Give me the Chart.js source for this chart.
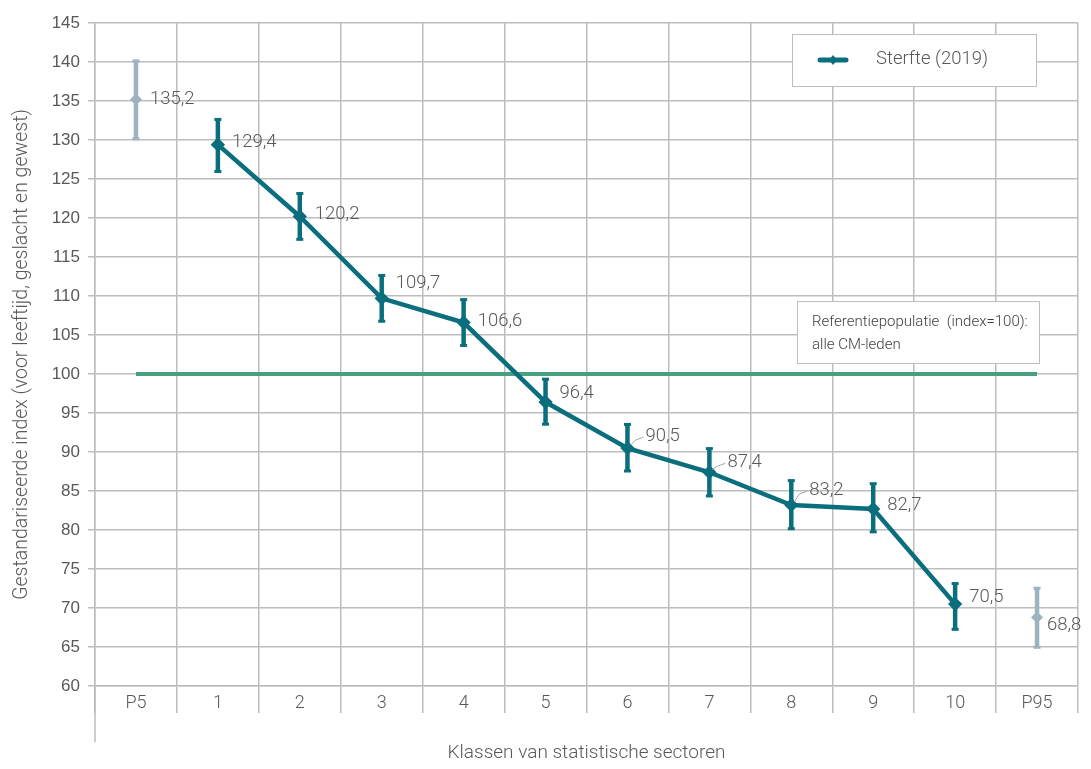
<!DOCTYPE html>
<html>
<head>
<meta charset="utf-8">
<script src="https://cdn.jsdelivr.net/npm/chart.js@4.4.0/dist/chart.umd.min.js"></script>
<style>
  html, body { margin: 0; padding: 0; background: #ffffff; }
  #wrap { position: relative; width: 1091px; height: 769px; }
</style>
</head>
<body>
<div id="wrap"><canvas id="sterfteChart" width="1091" height="769"></canvas></div>
<script>
// Chart data
const categories = ['P5', '1', '2', '3', '4', '5', '6', '7', '8', '9', '10', 'P95'];
const sterfte = [null, 129.4, 120.2, 109.7, 106.6, 96.4, 90.5, 87.4, 83.2, 82.7, 70.5, null];
const percentiles = [135.2, null, null, null, null, null, null, null, null, null, null, 68.8];
const lowerBound = [130.1, 125.9, 117.2, 106.7, 103.6, 93.5, 87.5, 84.3, 80.1, 79.7, 67.2, 64.9];
const upperBound = [140.2, 132.7, 123.2, 112.7, 109.6, 99.4, 93.6, 90.5, 86.4, 86.0, 73.2, 72.6];
const referentie = [100, 100, 100, 100, 100, 100, 100, 100, 100, 100, 100, 100];
const yTicks = [60, 65, 70, 75, 80, 85, 90, 95, 100, 105, 110, 115, 120, 125, 130, 135, 140, 145];

const TEAL = '#0b6e7c';
const GREYBLUE = '#9db4c0';
const GREEN = '#49a07f';
const GRID = '#bdbdbd';
const TEXT = '#595959';
const LIGHT = "Roboto, 'Liberation Sans', sans-serif";

// label offsets (dx, dy) relative to the point, leader = draw a small line
const labelOffsets = [
  [14, 0, false], [14, -2, false], [15, -2, false], [14, -15, false], [14, -1, false],
  [14, -9, false], [18, -12, true], [18, -10, true], [18, -15, true], [14, -4, false],
  [14, -7, false], [10, 8, false]
];

// error bars behind the points
const errorBars = {
  id: 'errorBars',
  beforeDatasetsDraw(chart) {
    const { ctx, scales: { x, y } } = chart;
    ctx.save();
    categories.forEach((c, i) => {
      const px = x.getPixelForValue(i);
      const top = y.getPixelForValue(upperBound[i]);
      const bot = y.getPixelForValue(lowerBound[i]);
      const col = (i === 0 || i === categories.length - 1) ? GREYBLUE : TEAL;
      ctx.strokeStyle = col;
      ctx.fillStyle = col;
      ctx.lineWidth = 4.5;
      ctx.beginPath();
      ctx.moveTo(px, top);
      ctx.lineTo(px, bot);
      ctx.stroke();
      ctx.fillRect(px - 3.5, top - 1, 7, 3);
      ctx.fillRect(px - 3.5, bot - 2, 7, 3);
    });
    ctx.restore();
  }
};

// value labels, legend box, reference box, extended y axis line
const decorations = {
  id: 'decorations',
  afterDraw(chart) {
    const { ctx, scales: { x, y }, chartArea } = chart;
    ctx.save();

    // y axis line running down past the x labels
    ctx.strokeStyle = GRID;
    ctx.lineWidth = 1.5;
    ctx.beginPath();
    ctx.moveTo(chartArea.left, chartArea.bottom);
    ctx.lineTo(chartArea.left, 742);
    ctx.stroke();

    // value labels
    ctx.font = '300 18.5px ' + LIGHT;
    ctx.fillStyle = TEXT;
    ctx.textAlign = 'left';
    ctx.textBaseline = 'middle';
    categories.forEach((c, i) => {
      const v = sterfte[i] !== null ? sterfte[i] : percentiles[i];
      const px = x.getPixelForValue(i);
      const py = y.getPixelForValue(v);
      const [dx, dy, leader] = labelOffsets[i];
      if (leader) {
        ctx.strokeStyle = '#a6a6a6';
        ctx.lineWidth = 1;
        ctx.beginPath();
        ctx.moveTo(px + 3, py - 3);
        ctx.lineTo(px + 8, py + dy + 4);
        ctx.lineTo(px + dx - 2, py + dy + 1);
        ctx.stroke();
      }
      ctx.fillText(v.toFixed(1).replace('.', ','), px + dx, py + dy);
    });

    // legend box
    ctx.fillStyle = '#ffffff';
    ctx.fillRect(792, 34, 244, 52);
    ctx.strokeStyle = '#bfbfbf';
    ctx.lineWidth = 1;
    ctx.strokeRect(792.5, 34.5, 244, 52);
    ctx.strokeStyle = TEAL;
    ctx.lineWidth = 5;
    ctx.lineCap = 'round';
    ctx.beginPath();
    ctx.moveTo(820, 60);
    ctx.lineTo(846, 60);
    ctx.stroke();
    ctx.lineCap = 'butt';
    ctx.fillStyle = TEAL;
    ctx.beginPath();
    ctx.moveTo(833, 55); ctx.lineTo(837, 60); ctx.lineTo(833, 65); ctx.lineTo(829, 60);
    ctx.closePath();
    ctx.fill();
    ctx.fillStyle = TEXT;
    ctx.font = '300 18.5px ' + LIGHT;
    ctx.fillText('Sterfte (2019)', 876, 59);

    // reference box
    ctx.fillStyle = '#ffffff';
    ctx.fillRect(797, 301, 242, 62);
    ctx.strokeStyle = '#bfbfbf';
    ctx.lineWidth = 1;
    ctx.strokeRect(797.5, 301.5, 242, 62);
    ctx.fillStyle = '#404040';
    ctx.font = '300 15px ' + LIGHT;
    ctx.fillText('Referentiepopulatie  (index=100):', 812, 322);
    ctx.fillText('alle CM-leden', 812, 345);

    ctx.restore();
  }
};

new Chart(document.getElementById('sterfteChart'), {
  type: 'line',
  data: {
    labels: categories,
    datasets: [
      {
        label: 'Sterfte (2019)',
        data: sterfte,
        borderColor: TEAL,
        backgroundColor: TEAL,
        borderWidth: 4.5,
        pointStyle: 'rectRot',
        pointRadius: 4,
        spanGaps: false,
        order: 1
      },
      {
        label: 'P5 / P95',
        data: percentiles,
        borderColor: GREYBLUE,
        backgroundColor: GREYBLUE,
        showLine: false,
        pointStyle: 'rectRot',
        pointRadius: 5.5,
        order: 2
      },
      {
        label: 'Referentiepopulatie',
        data: referentie,
        borderColor: GREEN,
        borderWidth: 4,
        pointRadius: 0,
        order: 3
      }
    ]
  },
  options: {
    responsive: false,
    animation: false,
    layout: { padding: { top: 23, right: 13, left: 0, bottom: 0 } },
    plugins: {
      legend: { display: false },
      tooltip: { enabled: false }
    },
    scales: {
      x: {
        offset: true,
        grid: { offset: true, color: GRID, lineWidth: 1.5, tickLength: 27, drawOnChartArea: true },
        border: { color: GRID, width: 1.5 },
        ticks: { color: TEXT, font: { family: LIGHT, size: 18, weight: '300' }, padding: -20, maxRotation: 0 },
        title: {
          display: true, text: 'Klassen van statistische sectoren', color: TEXT,
          font: { family: LIGHT, size: 19, weight: '300' }, padding: { top: 34 }
        },
        afterFit(scale) { scale.height = 83; }
      },
      y: {
        min: 60,
        max: 145,
        afterBuildTicks(scale) { scale.ticks = yTicks.map(v => ({ value: v })); },
        grid: { color: GRID, lineWidth: 1.5, tickLength: 7 },
        border: { color: GRID, width: 1.5 },
        ticks: { color: TEXT, font: { family: "'Liberation Sans', Arial, sans-serif", size: 17 }, padding: 8 },
        title: {
          display: true, text: 'Gestandariseerde index (voor leeftijd, geslacht en gewest)', color: TEXT,
          font: { family: LIGHT, size: 19.5, weight: '300' }, padding: { top: 10, bottom: 4 }
        },
        afterFit(scale) { scale.width = 95; }
      }
    }
  },
  plugins: [errorBars, decorations]
});
</script>
</body>
</html>
